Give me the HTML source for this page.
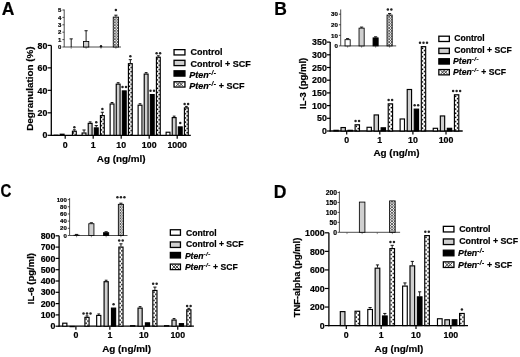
<!DOCTYPE html>
<html><head><meta charset="utf-8"><style>
html,body{margin:0;padding:0;background:#fff;}
body{width:520px;height:357px;overflow:hidden;}
svg{display:block;font-family:"Liberation Sans", sans-serif;filter:blur(0.35px);}
text{stroke:#000;stroke-width:0.2px;}
</style></head><body>
<svg width="520" height="357" viewBox="0 0 520 357">
<defs>
<pattern id="chki" width="2.8" height="2.8" patternUnits="userSpaceOnUse">
<rect width="2.8" height="2.8" fill="#fff"/><path d="M0,0L2.8,2.8M2.8,0L0,2.8" stroke="#333" stroke-width="0.75"/>
</pattern>
<pattern id="chk" width="3" height="3" patternUnits="userSpaceOnUse">
<rect width="3" height="3" fill="#111"/><circle cx="0.75" cy="0.75" r="0.85" fill="#fff"/><circle cx="2.25" cy="2.25" r="0.85" fill="#fff"/>
</pattern>
<pattern id="chkl" width="3.6" height="3.6" patternUnits="userSpaceOnUse" x="0.4" y="0.2">
<rect width="3.6" height="3.6" fill="#333"/><circle cx="0.9" cy="0.9" r="1.15" fill="#fff"/><circle cx="2.7" cy="2.7" r="1.15" fill="#fff"/>
</pattern>
<pattern id="pb0" x="0" y="131.85" width="520" height="4.2" patternUnits="userSpaceOnUse"><rect width="520" height="4.2" fill="#fff"/><circle cx="73.54" cy="1.05" r="0.8" fill="#000"/><circle cx="75.16" cy="3.15" r="0.8" fill="#000"/></pattern><pattern id="pb1" x="0" y="116.23" width="520" height="4.2" patternUnits="userSpaceOnUse"><rect width="520" height="4.2" fill="#fff"/><circle cx="101.54" cy="1.05" r="0.8" fill="#000"/><circle cx="103.16" cy="3.15" r="0.8" fill="#000"/></pattern><pattern id="pb2" x="0" y="64.29" width="520" height="4.2" patternUnits="userSpaceOnUse"><rect width="520" height="4.2" fill="#fff"/><circle cx="129.54" cy="1.05" r="0.8" fill="#000"/><circle cx="131.16" cy="3.15" r="0.8" fill="#000"/></pattern><pattern id="pb3" x="0" y="57.87" width="520" height="4.2" patternUnits="userSpaceOnUse"><rect width="520" height="4.2" fill="#fff"/><circle cx="157.54" cy="1.05" r="0.8" fill="#000"/><circle cx="159.16" cy="3.15" r="0.8" fill="#000"/></pattern><pattern id="pb4" x="0" y="108.48" width="520" height="4.2" patternUnits="userSpaceOnUse"><rect width="520" height="4.2" fill="#fff"/><circle cx="185.54" cy="1.05" r="0.8" fill="#000"/><circle cx="187.16" cy="3.15" r="0.8" fill="#000"/></pattern><pattern id="pb5" x="0" y="125.40" width="520" height="4.2" patternUnits="userSpaceOnUse"><rect width="520" height="4.2" fill="#fff"/><circle cx="356.34" cy="1.05" r="0.8" fill="#000"/><circle cx="358.26" cy="3.15" r="0.8" fill="#000"/></pattern><pattern id="pb6" x="0" y="104.48" width="520" height="4.2" patternUnits="userSpaceOnUse"><rect width="520" height="4.2" fill="#fff"/><circle cx="389.44" cy="1.05" r="0.8" fill="#000"/><circle cx="391.36" cy="3.15" r="0.8" fill="#000"/></pattern><pattern id="pb7" x="0" y="47.28" width="520" height="4.2" patternUnits="userSpaceOnUse"><rect width="520" height="4.2" fill="#fff"/><circle cx="422.54" cy="1.05" r="0.8" fill="#000"/><circle cx="424.46" cy="3.15" r="0.8" fill="#000"/></pattern><pattern id="pb8" x="0" y="95.41" width="520" height="4.2" patternUnits="userSpaceOnUse"><rect width="520" height="4.2" fill="#fff"/><circle cx="455.64" cy="1.05" r="0.8" fill="#000"/><circle cx="457.56" cy="3.15" r="0.8" fill="#000"/></pattern><pattern id="pb9" x="0" y="317.96" width="520" height="4.2" patternUnits="userSpaceOnUse"><rect width="520" height="4.2" fill="#fff"/><circle cx="86.10" cy="1.05" r="0.8" fill="#000"/><circle cx="87.90" cy="3.15" r="0.8" fill="#000"/></pattern><pattern id="pb10" x="0" y="247.71" width="520" height="4.2" patternUnits="userSpaceOnUse"><rect width="520" height="4.2" fill="#fff"/><circle cx="120.05" cy="1.05" r="0.8" fill="#000"/><circle cx="121.85" cy="3.15" r="0.8" fill="#000"/></pattern><pattern id="pb11" x="0" y="291.09" width="520" height="4.2" patternUnits="userSpaceOnUse"><rect width="520" height="4.2" fill="#fff"/><circle cx="154.00" cy="1.05" r="0.8" fill="#000"/><circle cx="155.80" cy="3.15" r="0.8" fill="#000"/></pattern><pattern id="pb12" x="0" y="310.43" width="520" height="4.2" patternUnits="userSpaceOnUse"><rect width="520" height="4.2" fill="#fff"/><circle cx="187.95" cy="1.05" r="0.8" fill="#000"/><circle cx="189.75" cy="3.15" r="0.8" fill="#000"/></pattern><pattern id="pb13" x="0" y="311.86" width="520" height="4.2" patternUnits="userSpaceOnUse"><rect width="520" height="4.2" fill="#fff"/><circle cx="356.30" cy="1.05" r="0.8" fill="#000"/><circle cx="358.40" cy="3.15" r="0.8" fill="#000"/></pattern><pattern id="pb14" x="0" y="249.22" width="520" height="4.2" patternUnits="userSpaceOnUse"><rect width="520" height="4.2" fill="#fff"/><circle cx="391.15" cy="1.05" r="0.8" fill="#000"/><circle cx="393.25" cy="3.15" r="0.8" fill="#000"/></pattern><pattern id="pb15" x="0" y="236.23" width="520" height="4.2" patternUnits="userSpaceOnUse"><rect width="520" height="4.2" fill="#fff"/><circle cx="426.00" cy="1.05" r="0.8" fill="#000"/><circle cx="428.10" cy="3.15" r="0.8" fill="#000"/></pattern><pattern id="pb16" x="0" y="314.09" width="520" height="4.2" patternUnits="userSpaceOnUse"><rect width="520" height="4.2" fill="#fff"/><circle cx="460.85" cy="1.05" r="0.8" fill="#000"/><circle cx="462.95" cy="3.15" r="0.8" fill="#000"/></pattern>
</defs>
<rect width="520" height="357" fill="#fff"/>
<text x="1.80" y="14.60" font-size="17.5" text-anchor="start" font-weight="bold" font-style="normal" fill="#000" >A</text>
<line x1="51.30" y1="45.38" x2="51.30" y2="135.90" stroke="#000" stroke-width="1.3"/>
<line x1="47.60" y1="135.30" x2="51.30" y2="135.30" stroke="#000" stroke-width="1.2"/>
<text x="47.40" y="138.47" font-size="8.8" text-anchor="end" font-weight="bold" font-style="normal" fill="#000" >0</text>
<line x1="47.60" y1="112.82" x2="51.30" y2="112.82" stroke="#000" stroke-width="1.2"/>
<text x="47.40" y="115.99" font-size="8.8" text-anchor="end" font-weight="bold" font-style="normal" fill="#000" >20</text>
<line x1="47.60" y1="90.34" x2="51.30" y2="90.34" stroke="#000" stroke-width="1.2"/>
<text x="47.40" y="93.51" font-size="8.8" text-anchor="end" font-weight="bold" font-style="normal" fill="#000" >40</text>
<line x1="47.60" y1="67.86" x2="51.30" y2="67.86" stroke="#000" stroke-width="1.2"/>
<text x="47.40" y="71.03" font-size="8.8" text-anchor="end" font-weight="bold" font-style="normal" fill="#000" >60</text>
<line x1="47.60" y1="45.38" x2="51.30" y2="45.38" stroke="#000" stroke-width="1.2"/>
<text x="47.40" y="48.55" font-size="8.8" text-anchor="end" font-weight="bold" font-style="normal" fill="#000" >80</text>
<line x1="50.70" y1="135.30" x2="190.80" y2="135.30" stroke="#000" stroke-width="1.3"/>
<line x1="65.20" y1="135.30" x2="65.20" y2="138.80" stroke="#000" stroke-width="1.2"/>
<text x="65.20" y="148.30" font-size="8.8" text-anchor="middle" font-weight="bold" font-style="normal" fill="#000" >0</text>
<rect x="54.13" y="135.21" width="3.85" height="0.20" fill="#fff" stroke="#000" stroke-width="1.15"/>
<rect x="60.23" y="134.21" width="3.85" height="1.09" fill="#cfcfcf" stroke="#000" stroke-width="1.15"/>
<line x1="72.95" y1="129.75" x2="75.75" y2="129.75" stroke="#000" stroke-width="0.9"/>
<line x1="74.35" y1="129.75" x2="74.35" y2="130.65" stroke="#000" stroke-width="0.9"/>
<rect x="72.43" y="131.22" width="3.85" height="4.08" fill="url(#pb0)" stroke="#000" stroke-width="1.15"/>
<circle cx="74.35" cy="127.35" r="1.25" fill="#222"/>
<line x1="93.20" y1="135.30" x2="93.20" y2="138.80" stroke="#000" stroke-width="1.2"/>
<text x="93.20" y="148.30" font-size="8.8" text-anchor="middle" font-weight="bold" font-style="normal" fill="#000" >1</text>
<line x1="84.05" y1="132.42" x2="84.05" y2="129.98" stroke="#000" stroke-width="0.9"/>
<line x1="82.45" y1="129.98" x2="85.65" y2="129.98" stroke="#000" stroke-width="0.9"/>
<rect x="82.12" y="133.00" width="3.85" height="2.30" fill="#fff" stroke="#000" stroke-width="1.15"/>
<line x1="88.75" y1="121.89" x2="91.55" y2="121.89" stroke="#000" stroke-width="0.9"/>
<line x1="90.15" y1="121.89" x2="90.15" y2="122.79" stroke="#000" stroke-width="0.9"/>
<rect x="88.23" y="123.36" width="3.85" height="11.94" fill="#cfcfcf" stroke="#000" stroke-width="1.15"/>
<line x1="96.25" y1="127.33" x2="96.25" y2="125.55" stroke="#000" stroke-width="0.9"/>
<line x1="94.65" y1="125.55" x2="97.85" y2="125.55" stroke="#000" stroke-width="0.9"/>
<rect x="94.33" y="127.90" width="3.85" height="7.40" fill="#000" stroke="#000" stroke-width="1.15"/>
<circle cx="96.25" cy="122.25" r="1.25" fill="#222"/>
<line x1="102.35" y1="115.03" x2="102.35" y2="112.26" stroke="#000" stroke-width="0.9"/>
<line x1="100.75" y1="112.26" x2="103.95" y2="112.26" stroke="#000" stroke-width="0.9"/>
<rect x="100.43" y="115.61" width="3.85" height="19.69" fill="url(#pb1)" stroke="#000" stroke-width="1.15"/>
<circle cx="102.35" cy="108.96" r="1.25" fill="#222"/>
<line x1="121.20" y1="135.30" x2="121.20" y2="138.80" stroke="#000" stroke-width="1.2"/>
<text x="121.20" y="148.30" font-size="8.8" text-anchor="middle" font-weight="bold" font-style="normal" fill="#000" >10</text>
<line x1="110.65" y1="102.50" x2="113.45" y2="102.50" stroke="#000" stroke-width="0.9"/>
<line x1="112.05" y1="102.50" x2="112.05" y2="103.40" stroke="#000" stroke-width="0.9"/>
<rect x="110.12" y="103.98" width="3.85" height="31.32" fill="#fff" stroke="#000" stroke-width="1.15"/>
<line x1="116.75" y1="82.68" x2="119.55" y2="82.68" stroke="#000" stroke-width="0.9"/>
<line x1="118.15" y1="82.68" x2="118.15" y2="83.58" stroke="#000" stroke-width="0.9"/>
<rect x="116.23" y="84.15" width="3.85" height="51.15" fill="#cfcfcf" stroke="#000" stroke-width="1.15"/>
<rect x="122.33" y="90.91" width="3.85" height="44.39" fill="#000" stroke="#000" stroke-width="1.15"/>
<circle cx="122.50" cy="87.04" r="1.25" fill="#222"/>
<circle cx="126.00" cy="87.04" r="1.25" fill="#222"/>
<line x1="130.35" y1="63.09" x2="130.35" y2="59.66" stroke="#000" stroke-width="0.9"/>
<line x1="128.75" y1="59.66" x2="131.95" y2="59.66" stroke="#000" stroke-width="0.9"/>
<rect x="128.42" y="63.67" width="3.85" height="71.63" fill="url(#pb2)" stroke="#000" stroke-width="1.15"/>
<circle cx="130.35" cy="56.36" r="1.25" fill="#222"/>
<line x1="149.20" y1="135.30" x2="149.20" y2="138.80" stroke="#000" stroke-width="1.2"/>
<text x="149.20" y="148.30" font-size="8.8" text-anchor="middle" font-weight="bold" font-style="normal" fill="#000" >100</text>
<line x1="138.65" y1="103.72" x2="141.45" y2="103.72" stroke="#000" stroke-width="0.9"/>
<line x1="140.05" y1="103.72" x2="140.05" y2="104.62" stroke="#000" stroke-width="0.9"/>
<rect x="138.12" y="105.20" width="3.85" height="30.10" fill="#fff" stroke="#000" stroke-width="1.15"/>
<line x1="144.75" y1="72.60" x2="147.55" y2="72.60" stroke="#000" stroke-width="0.9"/>
<line x1="146.15" y1="72.60" x2="146.15" y2="73.50" stroke="#000" stroke-width="0.9"/>
<rect x="144.22" y="74.08" width="3.85" height="61.22" fill="#cfcfcf" stroke="#000" stroke-width="1.15"/>
<rect x="150.32" y="94.57" width="3.85" height="40.73" fill="#000" stroke="#000" stroke-width="1.15"/>
<circle cx="150.50" cy="90.69" r="1.25" fill="#222"/>
<circle cx="154.00" cy="90.69" r="1.25" fill="#222"/>
<line x1="156.95" y1="55.77" x2="159.75" y2="55.77" stroke="#000" stroke-width="0.9"/>
<line x1="158.35" y1="55.77" x2="158.35" y2="56.67" stroke="#000" stroke-width="0.9"/>
<rect x="156.42" y="57.24" width="3.85" height="78.06" fill="url(#pb3)" stroke="#000" stroke-width="1.15"/>
<circle cx="156.60" cy="53.37" r="1.25" fill="#222"/>
<circle cx="160.10" cy="53.37" r="1.25" fill="#222"/>
<line x1="177.20" y1="135.30" x2="177.20" y2="138.80" stroke="#000" stroke-width="1.2"/>
<text x="177.20" y="148.30" font-size="8.8" text-anchor="middle" font-weight="bold" font-style="normal" fill="#000" >1000</text>
<rect x="166.12" y="132.22" width="3.85" height="3.08" fill="#fff" stroke="#000" stroke-width="1.15"/>
<line x1="172.75" y1="116.13" x2="175.55" y2="116.13" stroke="#000" stroke-width="0.9"/>
<line x1="174.15" y1="116.13" x2="174.15" y2="117.03" stroke="#000" stroke-width="0.9"/>
<rect x="172.22" y="117.60" width="3.85" height="17.70" fill="#cfcfcf" stroke="#000" stroke-width="1.15"/>
<rect x="178.32" y="126.90" width="3.85" height="8.40" fill="#000" stroke="#000" stroke-width="1.15"/>
<circle cx="180.25" cy="123.03" r="1.25" fill="#222"/>
<line x1="184.95" y1="106.38" x2="187.75" y2="106.38" stroke="#000" stroke-width="0.9"/>
<line x1="186.35" y1="106.38" x2="186.35" y2="107.28" stroke="#000" stroke-width="0.9"/>
<rect x="184.42" y="107.86" width="3.85" height="27.44" fill="url(#pb4)" stroke="#000" stroke-width="1.15"/>
<circle cx="184.60" cy="103.98" r="1.25" fill="#222"/>
<circle cx="188.10" cy="103.98" r="1.25" fill="#222"/>
<text x="121.20" y="161.60" font-size="9.9" text-anchor="middle" font-weight="bold" font-style="normal" fill="#000" >Ag (ng/ml)</text>
<text transform="translate(32.80,88.60) rotate(-90)" font-size="9.9" text-anchor="middle" font-weight="bold" fill="#000">Degranulation (%)</text>
<line x1="64.20" y1="9.50" x2="64.20" y2="47.00" stroke="#222" stroke-width="0.8"/>
<line x1="62.40" y1="47.00" x2="64.20" y2="47.00" stroke="#222" stroke-width="0.8"/>
<text x="61.40" y="49.16" font-size="6" text-anchor="end" font-weight="bold" font-style="normal" fill="#000" stroke="#000" stroke-width="0.25">0</text>
<line x1="62.40" y1="39.60" x2="64.20" y2="39.60" stroke="#222" stroke-width="0.8"/>
<text x="61.40" y="41.76" font-size="6" text-anchor="end" font-weight="bold" font-style="normal" fill="#000" stroke="#000" stroke-width="0.25">1</text>
<line x1="62.40" y1="32.20" x2="64.20" y2="32.20" stroke="#222" stroke-width="0.8"/>
<text x="61.40" y="34.36" font-size="6" text-anchor="end" font-weight="bold" font-style="normal" fill="#000" stroke="#000" stroke-width="0.25">2</text>
<line x1="62.40" y1="24.80" x2="64.20" y2="24.80" stroke="#222" stroke-width="0.8"/>
<text x="61.40" y="26.96" font-size="6" text-anchor="end" font-weight="bold" font-style="normal" fill="#000" stroke="#000" stroke-width="0.25">3</text>
<line x1="62.40" y1="17.40" x2="64.20" y2="17.40" stroke="#222" stroke-width="0.8"/>
<text x="61.40" y="19.56" font-size="6" text-anchor="end" font-weight="bold" font-style="normal" fill="#000" stroke="#000" stroke-width="0.25">4</text>
<line x1="62.40" y1="10.00" x2="64.20" y2="10.00" stroke="#222" stroke-width="0.8"/>
<text x="61.40" y="12.16" font-size="6" text-anchor="end" font-weight="bold" font-style="normal" fill="#000" stroke="#000" stroke-width="0.25">5</text>
<line x1="64.20" y1="47.00" x2="121.00" y2="47.00" stroke="#222" stroke-width="0.8"/>
<line x1="71.20" y1="47.00" x2="71.20" y2="48.80" stroke="#444" stroke-width="0.6"/>
<line x1="71.20" y1="47.00" x2="71.20" y2="38.86" stroke="#000" stroke-width="0.9"/>
<line x1="69.60" y1="38.86" x2="72.80" y2="38.86" stroke="#000" stroke-width="0.9"/>
<line x1="86.10" y1="47.00" x2="86.10" y2="48.80" stroke="#444" stroke-width="0.6"/>
<line x1="86.10" y1="41.08" x2="86.10" y2="30.72" stroke="#000" stroke-width="0.9"/>
<line x1="84.50" y1="30.72" x2="87.70" y2="30.72" stroke="#000" stroke-width="0.9"/>
<rect x="83.43" y="41.50" width="5.35" height="5.50" fill="#cfcfcf" stroke="#000" stroke-width="0.85"/>
<line x1="101.00" y1="47.00" x2="101.00" y2="48.80" stroke="#444" stroke-width="0.6"/>
<line x1="115.90" y1="47.00" x2="115.90" y2="48.80" stroke="#444" stroke-width="0.6"/>
<line x1="115.90" y1="16.66" x2="115.90" y2="15.18" stroke="#000" stroke-width="0.9"/>
<line x1="114.30" y1="15.18" x2="117.50" y2="15.18" stroke="#000" stroke-width="0.9"/>
<rect x="113.23" y="17.09" width="5.35" height="29.91" fill="url(#chki)" stroke="#000" stroke-width="0.85"/>
<circle cx="115.90" cy="9.90" r="1.25" fill="#222"/>
<circle cx="101.0" cy="46.3" r="1.2" fill="#111"/>
<rect x="174.05" y="49.65" width="10.90" height="5.30" fill="#fff" stroke="#000" stroke-width="1.3"/>
<text x="190.40" y="55.32" font-size="9.0" text-anchor="start" font-weight="bold" font-style="normal" fill="#000" >Control</text>
<rect x="174.05" y="60.30" width="10.90" height="5.30" fill="#cfcfcf" stroke="#000" stroke-width="1.3"/>
<text x="190.40" y="66.72" font-size="9.0" text-anchor="start" font-weight="bold" font-style="normal" fill="#000" >Control + SCF</text>
<rect x="174.05" y="70.80" width="10.90" height="5.30" fill="#000" stroke="#000" stroke-width="1.3"/>
<text x="189.30" y="77.62" font-size="9.0" text-anchor="start" font-weight="bold" font-style="normal" fill="#000" ><tspan font-style="italic">Pten</tspan><tspan font-style="italic" font-size="6.48" dy="-3" letter-spacing="0.45">-/-</tspan></text>
<rect x="174.05" y="81.75" width="10.90" height="5.30" fill="#fff" stroke="#000" stroke-width="1.3"/>
<path d="M175.87,82.40L179.87,86.40M175.87,86.40L179.87,82.40" stroke="#333" stroke-width="1.0" fill="none"/>
<path d="M179.13,82.40L183.13,86.40M179.13,86.40L183.13,82.40" stroke="#333" stroke-width="1.0" fill="none"/>
<text x="189.30" y="88.92" font-size="9.0" text-anchor="start" font-weight="bold" font-style="normal" fill="#000" ><tspan font-style="italic">Pten</tspan><tspan font-style="italic" font-size="6.48" dy="-3" letter-spacing="0.45">-/-</tspan><tspan dy="3"> + SCF</tspan></text>
<text x="274.20" y="15.10" font-size="17.5" text-anchor="start" font-weight="bold" font-style="normal" fill="#000" >B</text>
<line x1="330.20" y1="42.10" x2="330.20" y2="131.60" stroke="#000" stroke-width="1.3"/>
<line x1="327.00" y1="131.00" x2="330.20" y2="131.00" stroke="#000" stroke-width="1.2"/>
<text x="326.80" y="134.17" font-size="8.8" text-anchor="end" font-weight="bold" font-style="normal" fill="#000" >0</text>
<line x1="327.00" y1="118.30" x2="330.20" y2="118.30" stroke="#000" stroke-width="1.2"/>
<text x="326.80" y="121.47" font-size="8.8" text-anchor="end" font-weight="bold" font-style="normal" fill="#000" >50</text>
<line x1="327.00" y1="105.60" x2="330.20" y2="105.60" stroke="#000" stroke-width="1.2"/>
<text x="326.80" y="108.77" font-size="8.8" text-anchor="end" font-weight="bold" font-style="normal" fill="#000" >100</text>
<line x1="327.00" y1="92.90" x2="330.20" y2="92.90" stroke="#000" stroke-width="1.2"/>
<text x="326.80" y="96.07" font-size="8.8" text-anchor="end" font-weight="bold" font-style="normal" fill="#000" >150</text>
<line x1="327.00" y1="80.20" x2="330.20" y2="80.20" stroke="#000" stroke-width="1.2"/>
<text x="326.80" y="83.37" font-size="8.8" text-anchor="end" font-weight="bold" font-style="normal" fill="#000" >200</text>
<line x1="327.00" y1="67.50" x2="330.20" y2="67.50" stroke="#000" stroke-width="1.2"/>
<text x="326.80" y="70.67" font-size="8.8" text-anchor="end" font-weight="bold" font-style="normal" fill="#000" >250</text>
<line x1="327.00" y1="54.80" x2="330.20" y2="54.80" stroke="#000" stroke-width="1.2"/>
<text x="326.80" y="57.97" font-size="8.8" text-anchor="end" font-weight="bold" font-style="normal" fill="#000" >300</text>
<line x1="327.00" y1="42.10" x2="330.20" y2="42.10" stroke="#000" stroke-width="1.2"/>
<text x="326.80" y="45.27" font-size="8.8" text-anchor="end" font-weight="bold" font-style="normal" fill="#000" >350</text>
<line x1="329.60" y1="131.00" x2="462.70" y2="131.00" stroke="#000" stroke-width="1.3"/>
<line x1="346.70" y1="131.00" x2="346.70" y2="134.50" stroke="#000" stroke-width="1.2"/>
<text x="346.70" y="143.30" font-size="8.8" text-anchor="middle" font-weight="bold" font-style="normal" fill="#000" >0</text>
<rect x="333.92" y="130.31" width="4.35" height="0.68" fill="#fff" stroke="#000" stroke-width="1.15"/>
<rect x="341.02" y="127.54" width="4.35" height="3.46" fill="#cfcfcf" stroke="#000" stroke-width="1.15"/>
<rect x="348.02" y="130.31" width="4.35" height="0.68" fill="#000" stroke="#000" stroke-width="1.15"/>
<rect x="355.12" y="124.77" width="4.35" height="6.23" fill="url(#pb5)" stroke="#000" stroke-width="1.15"/>
<circle cx="355.55" cy="120.90" r="1.25" fill="#222"/>
<circle cx="359.05" cy="120.90" r="1.25" fill="#222"/>
<line x1="379.80" y1="131.00" x2="379.80" y2="134.50" stroke="#000" stroke-width="1.2"/>
<text x="379.80" y="143.30" font-size="8.8" text-anchor="middle" font-weight="bold" font-style="normal" fill="#000" >1</text>
<rect x="367.02" y="127.29" width="4.35" height="3.71" fill="#fff" stroke="#000" stroke-width="1.15"/>
<rect x="374.12" y="114.94" width="4.35" height="16.06" fill="#cfcfcf" stroke="#000" stroke-width="1.15"/>
<rect x="381.12" y="127.80" width="4.35" height="3.21" fill="#000" stroke="#000" stroke-width="1.15"/>
<rect x="388.23" y="103.86" width="4.35" height="27.14" fill="url(#pb6)" stroke="#000" stroke-width="1.15"/>
<circle cx="388.65" cy="99.98" r="1.25" fill="#222"/>
<circle cx="392.15" cy="99.98" r="1.25" fill="#222"/>
<line x1="412.90" y1="131.00" x2="412.90" y2="134.50" stroke="#000" stroke-width="1.2"/>
<text x="412.90" y="143.30" font-size="8.8" text-anchor="middle" font-weight="bold" font-style="normal" fill="#000" >10</text>
<rect x="400.12" y="118.98" width="4.35" height="12.02" fill="#fff" stroke="#000" stroke-width="1.15"/>
<rect x="407.22" y="89.49" width="4.35" height="41.51" fill="#cfcfcf" stroke="#000" stroke-width="1.15"/>
<rect x="414.22" y="109.15" width="4.35" height="21.85" fill="#000" stroke="#000" stroke-width="1.15"/>
<circle cx="414.65" cy="105.27" r="1.25" fill="#222"/>
<circle cx="418.15" cy="105.27" r="1.25" fill="#222"/>
<rect x="421.32" y="46.65" width="4.35" height="84.35" fill="url(#pb7)" stroke="#000" stroke-width="1.15"/>
<circle cx="420.00" cy="42.78" r="1.25" fill="#222"/>
<circle cx="423.50" cy="42.78" r="1.25" fill="#222"/>
<circle cx="427.00" cy="42.78" r="1.25" fill="#222"/>
<line x1="446.00" y1="131.00" x2="446.00" y2="134.50" stroke="#000" stroke-width="1.2"/>
<text x="446.00" y="143.30" font-size="8.8" text-anchor="middle" font-weight="bold" font-style="normal" fill="#000" >100</text>
<rect x="433.22" y="128.30" width="4.35" height="2.70" fill="#fff" stroke="#000" stroke-width="1.15"/>
<rect x="440.32" y="115.95" width="4.35" height="15.05" fill="#cfcfcf" stroke="#000" stroke-width="1.15"/>
<rect x="447.32" y="128.30" width="4.35" height="2.70" fill="#000" stroke="#000" stroke-width="1.15"/>
<rect x="454.43" y="94.78" width="4.35" height="36.22" fill="url(#pb8)" stroke="#000" stroke-width="1.15"/>
<circle cx="453.10" cy="90.91" r="1.25" fill="#222"/>
<circle cx="456.60" cy="90.91" r="1.25" fill="#222"/>
<circle cx="460.10" cy="90.91" r="1.25" fill="#222"/>
<text x="396.50" y="156.40" font-size="9.9" text-anchor="middle" font-weight="bold" font-style="normal" fill="#000" >Ag (ng/m)</text>
<text transform="translate(306.00,83.40) rotate(-90)" font-size="9.5" text-anchor="middle" font-weight="bold" fill="#000">IL-3 (pg/ml)</text>
<line x1="340.70" y1="9.46" x2="340.70" y2="45.90" stroke="#222" stroke-width="0.8"/>
<line x1="338.90" y1="45.90" x2="340.70" y2="45.90" stroke="#222" stroke-width="0.8"/>
<text x="337.90" y="48.13" font-size="6.2" text-anchor="end" font-weight="bold" font-style="normal" fill="#000" stroke="#000" stroke-width="0.25">0</text>
<line x1="338.90" y1="35.33" x2="340.70" y2="35.33" stroke="#222" stroke-width="0.8"/>
<text x="337.90" y="37.56" font-size="6.2" text-anchor="end" font-weight="bold" font-style="normal" fill="#000" stroke="#000" stroke-width="0.25">10</text>
<line x1="338.90" y1="24.76" x2="340.70" y2="24.76" stroke="#222" stroke-width="0.8"/>
<text x="337.90" y="26.99" font-size="6.2" text-anchor="end" font-weight="bold" font-style="normal" fill="#000" stroke="#000" stroke-width="0.25">20</text>
<line x1="338.90" y1="14.19" x2="340.70" y2="14.19" stroke="#222" stroke-width="0.8"/>
<text x="337.90" y="16.42" font-size="6.2" text-anchor="end" font-weight="bold" font-style="normal" fill="#000" stroke="#000" stroke-width="0.25">30</text>
<line x1="340.70" y1="45.90" x2="396.20" y2="45.90" stroke="#222" stroke-width="0.8"/>
<line x1="347.60" y1="45.90" x2="347.60" y2="47.70" stroke="#444" stroke-width="0.6"/>
<line x1="347.60" y1="39.24" x2="347.60" y2="38.61" stroke="#000" stroke-width="0.9"/>
<line x1="346.00" y1="38.61" x2="349.20" y2="38.61" stroke="#000" stroke-width="0.9"/>
<rect x="345.03" y="39.67" width="5.15" height="6.23" fill="#fff" stroke="#000" stroke-width="0.85"/>
<line x1="361.60" y1="45.90" x2="361.60" y2="47.70" stroke="#444" stroke-width="0.6"/>
<line x1="361.60" y1="27.72" x2="361.60" y2="27.09" stroke="#000" stroke-width="0.9"/>
<line x1="360.00" y1="27.09" x2="363.20" y2="27.09" stroke="#000" stroke-width="0.9"/>
<rect x="359.03" y="28.14" width="5.15" height="17.76" fill="#cfcfcf" stroke="#000" stroke-width="0.85"/>
<line x1="375.60" y1="45.90" x2="375.60" y2="47.70" stroke="#444" stroke-width="0.6"/>
<line x1="375.60" y1="37.44" x2="375.60" y2="36.81" stroke="#000" stroke-width="0.9"/>
<line x1="374.00" y1="36.81" x2="377.20" y2="36.81" stroke="#000" stroke-width="0.9"/>
<rect x="373.03" y="37.87" width="5.15" height="8.03" fill="#000" stroke="#000" stroke-width="0.85"/>
<line x1="389.60" y1="45.90" x2="389.60" y2="47.70" stroke="#444" stroke-width="0.6"/>
<line x1="389.60" y1="14.61" x2="389.60" y2="13.56" stroke="#000" stroke-width="0.9"/>
<line x1="388.00" y1="13.56" x2="391.20" y2="13.56" stroke="#000" stroke-width="0.9"/>
<rect x="387.03" y="15.04" width="5.15" height="30.86" fill="url(#chki)" stroke="#000" stroke-width="0.85"/>
<circle cx="387.85" cy="9.40" r="1.25" fill="#222"/>
<circle cx="391.35" cy="9.40" r="1.25" fill="#222"/>
<rect x="438.85" y="36.20" width="10.50" height="5.30" fill="#fff" stroke="#000" stroke-width="1.3"/>
<text x="454.20" y="40.53" font-size="8.6" text-anchor="start" font-weight="bold" font-style="normal" fill="#000" >Control</text>
<rect x="438.85" y="48.25" width="10.50" height="5.30" fill="#cfcfcf" stroke="#000" stroke-width="1.3"/>
<text x="454.20" y="52.63" font-size="8.6" text-anchor="start" font-weight="bold" font-style="normal" fill="#000" >Control + SCF</text>
<rect x="438.85" y="58.75" width="10.50" height="5.30" fill="#000" stroke="#000" stroke-width="1.3"/>
<text x="453.10" y="64.08" font-size="8.6" text-anchor="start" font-weight="bold" font-style="normal" fill="#000" ><tspan font-style="italic">Pten</tspan><tspan font-style="italic" font-size="6.19" dy="-3" letter-spacing="0.45">-/-</tspan></text>
<rect x="438.85" y="69.55" width="10.50" height="5.30" fill="#fff" stroke="#000" stroke-width="1.3"/>
<path d="M440.54,70.20L444.54,74.20M440.54,74.20L444.54,70.20" stroke="#333" stroke-width="1.0" fill="none"/>
<path d="M443.66,70.20L447.66,74.20M443.66,74.20L447.66,70.20" stroke="#333" stroke-width="1.0" fill="none"/>
<text x="453.10" y="75.43" font-size="8.6" text-anchor="start" font-weight="bold" font-style="normal" fill="#000" ><tspan font-style="italic">Pten</tspan><tspan font-style="italic" font-size="6.19" dy="-3" letter-spacing="0.45">-/-</tspan><tspan dy="3"> + SCF</tspan></text>
<g transform="translate(0.50,0) scale(0.86,1)">
<text x="0.00" y="196.60" font-size="17.5" text-anchor="start" font-weight="bold" font-style="normal" fill="#000" >C</text>
</g>
<line x1="59.10" y1="235.80" x2="59.10" y2="326.80" stroke="#000" stroke-width="1.3"/>
<line x1="55.60" y1="326.20" x2="59.10" y2="326.20" stroke="#000" stroke-width="1.2"/>
<text x="55.40" y="329.37" font-size="8.8" text-anchor="end" font-weight="bold" font-style="normal" fill="#000" >0</text>
<line x1="55.60" y1="314.90" x2="59.10" y2="314.90" stroke="#000" stroke-width="1.2"/>
<text x="55.40" y="318.07" font-size="8.8" text-anchor="end" font-weight="bold" font-style="normal" fill="#000" >100</text>
<line x1="55.60" y1="303.60" x2="59.10" y2="303.60" stroke="#000" stroke-width="1.2"/>
<text x="55.40" y="306.77" font-size="8.8" text-anchor="end" font-weight="bold" font-style="normal" fill="#000" >200</text>
<line x1="55.60" y1="292.30" x2="59.10" y2="292.30" stroke="#000" stroke-width="1.2"/>
<text x="55.40" y="295.47" font-size="8.8" text-anchor="end" font-weight="bold" font-style="normal" fill="#000" >300</text>
<line x1="55.60" y1="281.00" x2="59.10" y2="281.00" stroke="#000" stroke-width="1.2"/>
<text x="55.40" y="284.17" font-size="8.8" text-anchor="end" font-weight="bold" font-style="normal" fill="#000" >400</text>
<line x1="55.60" y1="269.70" x2="59.10" y2="269.70" stroke="#000" stroke-width="1.2"/>
<text x="55.40" y="272.87" font-size="8.8" text-anchor="end" font-weight="bold" font-style="normal" fill="#000" >500</text>
<line x1="55.60" y1="258.40" x2="59.10" y2="258.40" stroke="#000" stroke-width="1.2"/>
<text x="55.40" y="261.57" font-size="8.8" text-anchor="end" font-weight="bold" font-style="normal" fill="#000" >600</text>
<line x1="55.60" y1="247.10" x2="59.10" y2="247.10" stroke="#000" stroke-width="1.2"/>
<text x="55.40" y="250.27" font-size="8.8" text-anchor="end" font-weight="bold" font-style="normal" fill="#000" >700</text>
<line x1="55.60" y1="235.80" x2="59.10" y2="235.80" stroke="#000" stroke-width="1.2"/>
<text x="55.40" y="238.97" font-size="8.8" text-anchor="end" font-weight="bold" font-style="normal" fill="#000" >800</text>
<line x1="58.50" y1="326.20" x2="193.90" y2="326.20" stroke="#000" stroke-width="1.3"/>
<line x1="75.90" y1="326.20" x2="75.90" y2="329.70" stroke="#000" stroke-width="1.2"/>
<text x="75.90" y="337.70" font-size="8.8" text-anchor="middle" font-weight="bold" font-style="normal" fill="#000" >0</text>
<rect x="62.73" y="323.18" width="4.15" height="3.02" fill="#fff" stroke="#000" stroke-width="1.15"/>
<rect x="70.12" y="326.44" width="4.15" height="0.20" fill="#cfcfcf" stroke="#000" stroke-width="1.15"/>
<line x1="85.60" y1="315.86" x2="88.40" y2="315.86" stroke="#000" stroke-width="0.9"/>
<line x1="87.00" y1="315.86" x2="87.00" y2="316.76" stroke="#000" stroke-width="0.9"/>
<rect x="84.92" y="317.33" width="4.15" height="8.87" fill="url(#pb9)" stroke="#000" stroke-width="1.15"/>
<circle cx="83.50" cy="313.46" r="1.25" fill="#222"/>
<circle cx="87.00" cy="313.46" r="1.25" fill="#222"/>
<circle cx="90.50" cy="313.46" r="1.25" fill="#222"/>
<line x1="109.85" y1="326.20" x2="109.85" y2="329.70" stroke="#000" stroke-width="1.2"/>
<text x="109.85" y="337.70" font-size="8.8" text-anchor="middle" font-weight="bold" font-style="normal" fill="#000" >1</text>
<line x1="97.35" y1="313.95" x2="100.15" y2="313.95" stroke="#000" stroke-width="0.9"/>
<line x1="98.75" y1="313.95" x2="98.75" y2="314.85" stroke="#000" stroke-width="0.9"/>
<rect x="96.68" y="315.42" width="4.15" height="10.78" fill="#fff" stroke="#000" stroke-width="1.15"/>
<line x1="104.75" y1="280.23" x2="107.55" y2="280.23" stroke="#000" stroke-width="0.9"/>
<line x1="106.15" y1="280.23" x2="106.15" y2="281.13" stroke="#000" stroke-width="0.9"/>
<rect x="104.08" y="281.70" width="4.15" height="44.50" fill="#cfcfcf" stroke="#000" stroke-width="1.15"/>
<rect x="111.48" y="308.12" width="4.15" height="18.08" fill="#000" stroke="#000" stroke-width="1.15"/>
<circle cx="113.55" cy="304.24" r="1.25" fill="#222"/>
<line x1="120.95" y1="246.51" x2="120.95" y2="243.81" stroke="#000" stroke-width="0.9"/>
<line x1="119.35" y1="243.81" x2="122.55" y2="243.81" stroke="#000" stroke-width="0.9"/>
<rect x="118.88" y="247.08" width="4.15" height="79.12" fill="url(#pb10)" stroke="#000" stroke-width="1.15"/>
<circle cx="119.20" cy="240.51" r="1.25" fill="#222"/>
<circle cx="122.70" cy="240.51" r="1.25" fill="#222"/>
<line x1="143.80" y1="326.20" x2="143.80" y2="329.70" stroke="#000" stroke-width="1.2"/>
<text x="143.80" y="337.70" font-size="8.8" text-anchor="middle" font-weight="bold" font-style="normal" fill="#000" >10</text>
<rect x="130.62" y="325.65" width="4.15" height="0.55" fill="#fff" stroke="#000" stroke-width="1.15"/>
<line x1="138.70" y1="306.64" x2="141.50" y2="306.64" stroke="#000" stroke-width="0.9"/>
<line x1="140.10" y1="306.64" x2="140.10" y2="307.54" stroke="#000" stroke-width="0.9"/>
<rect x="138.03" y="308.12" width="4.15" height="18.08" fill="#cfcfcf" stroke="#000" stroke-width="1.15"/>
<rect x="145.42" y="322.84" width="4.15" height="3.36" fill="#000" stroke="#000" stroke-width="1.15"/>
<line x1="154.90" y1="289.89" x2="154.90" y2="287.08" stroke="#000" stroke-width="0.9"/>
<line x1="153.30" y1="287.08" x2="156.50" y2="287.08" stroke="#000" stroke-width="0.9"/>
<rect x="152.82" y="290.47" width="4.15" height="35.73" fill="url(#pb11)" stroke="#000" stroke-width="1.15"/>
<circle cx="153.15" cy="283.78" r="1.25" fill="#222"/>
<circle cx="156.65" cy="283.78" r="1.25" fill="#222"/>
<line x1="177.75" y1="326.20" x2="177.75" y2="329.70" stroke="#000" stroke-width="1.2"/>
<text x="177.75" y="337.70" font-size="8.8" text-anchor="middle" font-weight="bold" font-style="normal" fill="#000" >100</text>
<rect x="164.57" y="325.65" width="4.15" height="0.55" fill="#fff" stroke="#000" stroke-width="1.15"/>
<line x1="172.65" y1="318.56" x2="175.45" y2="318.56" stroke="#000" stroke-width="0.9"/>
<line x1="174.05" y1="318.56" x2="174.05" y2="319.46" stroke="#000" stroke-width="0.9"/>
<rect x="171.97" y="320.03" width="4.15" height="6.17" fill="#cfcfcf" stroke="#000" stroke-width="1.15"/>
<rect x="179.37" y="323.63" width="4.15" height="2.57" fill="#000" stroke="#000" stroke-width="1.15"/>
<line x1="187.45" y1="308.33" x2="190.25" y2="308.33" stroke="#000" stroke-width="0.9"/>
<line x1="188.85" y1="308.33" x2="188.85" y2="309.23" stroke="#000" stroke-width="0.9"/>
<rect x="186.77" y="309.80" width="4.15" height="16.40" fill="url(#pb12)" stroke="#000" stroke-width="1.15"/>
<circle cx="187.10" cy="305.93" r="1.25" fill="#222"/>
<circle cx="190.60" cy="305.93" r="1.25" fill="#222"/>
<text x="126.60" y="352.00" font-size="9.9" text-anchor="middle" font-weight="bold" font-style="normal" fill="#000" >Ag (ng/ml)</text>
<text transform="translate(34.30,278.60) rotate(-90)" font-size="9.5" text-anchor="middle" font-weight="bold" fill="#000">IL-6 (pg/ml)</text>
<line x1="69.60" y1="198.02" x2="69.60" y2="235.50" stroke="#222" stroke-width="0.8"/>
<line x1="67.80" y1="235.50" x2="69.60" y2="235.50" stroke="#222" stroke-width="0.8"/>
<text x="66.80" y="237.66" font-size="6.0" text-anchor="end" font-weight="bold" font-style="normal" fill="#000" stroke="#000" stroke-width="0.25">0</text>
<line x1="67.80" y1="228.32" x2="69.60" y2="228.32" stroke="#222" stroke-width="0.8"/>
<text x="66.80" y="230.48" font-size="6.0" text-anchor="end" font-weight="bold" font-style="normal" fill="#000" stroke="#000" stroke-width="0.25">20</text>
<line x1="67.80" y1="221.14" x2="69.60" y2="221.14" stroke="#222" stroke-width="0.8"/>
<text x="66.80" y="223.30" font-size="6.0" text-anchor="end" font-weight="bold" font-style="normal" fill="#000" stroke="#000" stroke-width="0.25">40</text>
<line x1="67.80" y1="213.96" x2="69.60" y2="213.96" stroke="#222" stroke-width="0.8"/>
<text x="66.80" y="216.12" font-size="6.0" text-anchor="end" font-weight="bold" font-style="normal" fill="#000" stroke="#000" stroke-width="0.25">60</text>
<line x1="67.80" y1="206.78" x2="69.60" y2="206.78" stroke="#222" stroke-width="0.8"/>
<text x="66.80" y="208.94" font-size="6.0" text-anchor="end" font-weight="bold" font-style="normal" fill="#000" stroke="#000" stroke-width="0.25">80</text>
<line x1="67.80" y1="199.60" x2="69.60" y2="199.60" stroke="#222" stroke-width="0.8"/>
<text x="66.80" y="201.76" font-size="6.0" text-anchor="end" font-weight="bold" font-style="normal" fill="#000" stroke="#000" stroke-width="0.25">100</text>
<line x1="69.60" y1="235.50" x2="127.50" y2="235.50" stroke="#222" stroke-width="0.8"/>
<line x1="76.60" y1="235.50" x2="76.60" y2="237.30" stroke="#444" stroke-width="0.6"/>
<line x1="76.60" y1="234.78" x2="76.60" y2="234.42" stroke="#000" stroke-width="0.9"/>
<line x1="75.00" y1="234.42" x2="78.20" y2="234.42" stroke="#000" stroke-width="0.9"/>
<rect x="74.02" y="235.21" width="5.15" height="0.29" fill="#fff" stroke="#000" stroke-width="0.85"/>
<line x1="91.37" y1="235.50" x2="91.37" y2="237.30" stroke="#444" stroke-width="0.6"/>
<line x1="91.37" y1="223.29" x2="91.37" y2="222.76" stroke="#000" stroke-width="0.9"/>
<line x1="89.77" y1="222.76" x2="92.97" y2="222.76" stroke="#000" stroke-width="0.9"/>
<rect x="88.79" y="223.72" width="5.15" height="11.78" fill="#cfcfcf" stroke="#000" stroke-width="0.85"/>
<line x1="106.14" y1="235.50" x2="106.14" y2="237.30" stroke="#444" stroke-width="0.6"/>
<line x1="106.14" y1="232.27" x2="106.14" y2="231.73" stroke="#000" stroke-width="0.9"/>
<line x1="104.54" y1="231.73" x2="107.74" y2="231.73" stroke="#000" stroke-width="0.9"/>
<rect x="103.56" y="232.69" width="5.15" height="2.81" fill="#000" stroke="#000" stroke-width="0.85"/>
<line x1="120.91" y1="235.50" x2="120.91" y2="237.30" stroke="#444" stroke-width="0.6"/>
<line x1="120.91" y1="203.91" x2="120.91" y2="203.19" stroke="#000" stroke-width="0.9"/>
<line x1="119.31" y1="203.19" x2="122.51" y2="203.19" stroke="#000" stroke-width="0.9"/>
<rect x="118.33" y="204.33" width="5.15" height="31.17" fill="url(#chki)" stroke="#000" stroke-width="0.85"/>
<circle cx="117.41" cy="197.20" r="1.25" fill="#222"/>
<circle cx="120.91" cy="197.20" r="1.25" fill="#222"/>
<circle cx="124.41" cy="197.20" r="1.25" fill="#222"/>
<rect x="170.35" y="229.75" width="10.10" height="5.50" fill="#fff" stroke="#000" stroke-width="1.3"/>
<text x="186.00" y="235.58" font-size="8.6" text-anchor="start" font-weight="bold" font-style="normal" fill="#000" >Control</text>
<rect x="170.35" y="241.95" width="10.10" height="5.50" fill="#cfcfcf" stroke="#000" stroke-width="1.3"/>
<text x="186.00" y="247.38" font-size="8.6" text-anchor="start" font-weight="bold" font-style="normal" fill="#000" >Control + SCF</text>
<rect x="170.35" y="252.45" width="10.10" height="5.50" fill="#000" stroke="#000" stroke-width="1.3"/>
<text x="184.90" y="258.58" font-size="8.6" text-anchor="start" font-weight="bold" font-style="normal" fill="#000" ><tspan font-style="italic">Pten</tspan><tspan font-style="italic" font-size="6.19" dy="-3" letter-spacing="0.45">-/-</tspan></text>
<rect x="170.35" y="264.10" width="10.10" height="5.50" fill="#fff" stroke="#000" stroke-width="1.3"/>
<path d="M171.80,264.75L176.00,268.95M171.80,268.95L176.00,264.75" stroke="#333" stroke-width="1.0" fill="none"/>
<path d="M174.80,264.75L179.00,268.95M174.80,268.95L179.00,264.75" stroke="#333" stroke-width="1.0" fill="none"/>
<text x="184.90" y="270.33" font-size="8.6" text-anchor="start" font-weight="bold" font-style="normal" fill="#000" ><tspan font-style="italic">Pten</tspan><tspan font-style="italic" font-size="6.19" dy="-3" letter-spacing="0.45">-/-</tspan><tspan dy="3"> + SCF</tspan></text>
<text x="273.80" y="198.20" font-size="17.5" text-anchor="start" font-weight="bold" font-style="normal" fill="#000" >D</text>
<line x1="328.90" y1="232.80" x2="328.90" y2="326.20" stroke="#000" stroke-width="1.3"/>
<line x1="324.80" y1="325.60" x2="328.90" y2="325.60" stroke="#000" stroke-width="1.2"/>
<text x="324.60" y="328.77" font-size="8.8" text-anchor="end" font-weight="bold" font-style="normal" fill="#000" >0</text>
<line x1="324.80" y1="307.04" x2="328.90" y2="307.04" stroke="#000" stroke-width="1.2"/>
<text x="324.60" y="310.21" font-size="8.8" text-anchor="end" font-weight="bold" font-style="normal" fill="#000" >200</text>
<line x1="324.80" y1="288.48" x2="328.90" y2="288.48" stroke="#000" stroke-width="1.2"/>
<text x="324.60" y="291.65" font-size="8.8" text-anchor="end" font-weight="bold" font-style="normal" fill="#000" >400</text>
<line x1="324.80" y1="269.92" x2="328.90" y2="269.92" stroke="#000" stroke-width="1.2"/>
<text x="324.60" y="273.09" font-size="8.8" text-anchor="end" font-weight="bold" font-style="normal" fill="#000" >600</text>
<line x1="324.80" y1="251.36" x2="328.90" y2="251.36" stroke="#000" stroke-width="1.2"/>
<text x="324.60" y="254.53" font-size="8.8" text-anchor="end" font-weight="bold" font-style="normal" fill="#000" >800</text>
<line x1="324.80" y1="232.80" x2="328.90" y2="232.80" stroke="#000" stroke-width="1.2"/>
<text x="324.60" y="235.97" font-size="8.8" text-anchor="end" font-weight="bold" font-style="normal" fill="#000" >1000</text>
<line x1="328.30" y1="325.60" x2="468.00" y2="325.60" stroke="#000" stroke-width="1.3"/>
<line x1="346.30" y1="325.60" x2="346.30" y2="329.10" stroke="#000" stroke-width="1.2"/>
<text x="346.30" y="337.90" font-size="8.8" text-anchor="middle" font-weight="bold" font-style="normal" fill="#000" >0</text>
<rect x="340.30" y="311.61" width="4.65" height="13.99" fill="#cfcfcf" stroke="#000" stroke-width="1.15"/>
<rect x="355.03" y="311.23" width="4.65" height="14.37" fill="url(#pb13)" stroke="#000" stroke-width="1.15"/>
<line x1="381.15" y1="325.60" x2="381.15" y2="329.10" stroke="#000" stroke-width="1.2"/>
<text x="381.15" y="337.90" font-size="8.8" text-anchor="middle" font-weight="bold" font-style="normal" fill="#000" >1</text>
<line x1="370.10" y1="308.90" x2="370.10" y2="307.50" stroke="#000" stroke-width="0.9"/>
<line x1="368.50" y1="307.50" x2="371.70" y2="307.50" stroke="#000" stroke-width="0.9"/>
<rect x="367.78" y="309.47" width="4.65" height="16.13" fill="#fff" stroke="#000" stroke-width="1.15"/>
<line x1="377.47" y1="267.60" x2="377.47" y2="264.91" stroke="#000" stroke-width="0.9"/>
<line x1="375.87" y1="264.91" x2="379.07" y2="264.91" stroke="#000" stroke-width="0.9"/>
<rect x="375.15" y="268.18" width="4.65" height="57.42" fill="#cfcfcf" stroke="#000" stroke-width="1.15"/>
<line x1="384.83" y1="315.39" x2="384.83" y2="313.44" stroke="#000" stroke-width="0.9"/>
<line x1="383.23" y1="313.44" x2="386.43" y2="313.44" stroke="#000" stroke-width="0.9"/>
<rect x="382.51" y="315.97" width="4.65" height="9.63" fill="#000" stroke="#000" stroke-width="1.15"/>
<line x1="392.20" y1="248.02" x2="392.20" y2="245.33" stroke="#000" stroke-width="0.9"/>
<line x1="390.60" y1="245.33" x2="393.80" y2="245.33" stroke="#000" stroke-width="0.9"/>
<rect x="389.88" y="248.59" width="4.65" height="77.01" fill="url(#pb14)" stroke="#000" stroke-width="1.15"/>
<circle cx="390.45" cy="242.03" r="1.25" fill="#222"/>
<circle cx="393.95" cy="242.03" r="1.25" fill="#222"/>
<line x1="416.00" y1="325.60" x2="416.00" y2="329.10" stroke="#000" stroke-width="1.2"/>
<text x="416.00" y="337.90" font-size="8.8" text-anchor="middle" font-weight="bold" font-style="normal" fill="#000" >10</text>
<line x1="404.95" y1="285.51" x2="404.95" y2="282.91" stroke="#000" stroke-width="0.9"/>
<line x1="403.35" y1="282.91" x2="406.55" y2="282.91" stroke="#000" stroke-width="0.9"/>
<rect x="402.62" y="286.09" width="4.65" height="39.51" fill="#fff" stroke="#000" stroke-width="1.15"/>
<line x1="412.32" y1="265.28" x2="412.32" y2="261.38" stroke="#000" stroke-width="0.9"/>
<line x1="410.72" y1="261.38" x2="413.92" y2="261.38" stroke="#000" stroke-width="0.9"/>
<rect x="410.00" y="265.86" width="4.65" height="59.74" fill="#cfcfcf" stroke="#000" stroke-width="1.15"/>
<line x1="419.68" y1="296.28" x2="419.68" y2="291.82" stroke="#000" stroke-width="0.9"/>
<line x1="418.08" y1="291.82" x2="421.28" y2="291.82" stroke="#000" stroke-width="0.9"/>
<rect x="417.36" y="296.85" width="4.65" height="28.75" fill="#000" stroke="#000" stroke-width="1.15"/>
<rect x="424.73" y="235.60" width="4.65" height="90.00" fill="url(#pb15)" stroke="#000" stroke-width="1.15"/>
<circle cx="425.30" cy="231.73" r="1.25" fill="#222"/>
<circle cx="428.80" cy="231.73" r="1.25" fill="#222"/>
<line x1="450.85" y1="325.60" x2="450.85" y2="329.10" stroke="#000" stroke-width="1.2"/>
<text x="450.85" y="337.90" font-size="8.8" text-anchor="middle" font-weight="bold" font-style="normal" fill="#000" >100</text>
<rect x="437.48" y="318.75" width="4.65" height="6.85" fill="#fff" stroke="#000" stroke-width="1.15"/>
<rect x="444.85" y="319.77" width="4.65" height="5.83" fill="#cfcfcf" stroke="#000" stroke-width="1.15"/>
<rect x="452.21" y="319.77" width="4.65" height="5.83" fill="#000" stroke="#000" stroke-width="1.15"/>
<rect x="459.58" y="313.46" width="4.65" height="12.14" fill="url(#pb16)" stroke="#000" stroke-width="1.15"/>
<circle cx="461.90" cy="309.59" r="1.25" fill="#222"/>
<text x="399.00" y="352.30" font-size="9.9" text-anchor="middle" font-weight="bold" font-style="normal" fill="#000" >Ag (ng/ml)</text>
<text transform="translate(300.10,277.50) rotate(-90)" font-size="9.4" text-anchor="middle" font-weight="bold" fill="#000">TNF-alpha (pg/ml)</text>
<line x1="339.40" y1="191.40" x2="339.40" y2="232.30" stroke="#222" stroke-width="0.8"/>
<line x1="337.60" y1="232.30" x2="339.40" y2="232.30" stroke="#222" stroke-width="0.8"/>
<text x="337.00" y="234.75" font-size="6.8" text-anchor="end" font-weight="bold" font-style="normal" fill="#000" stroke="#000" stroke-width="0.25">0</text>
<line x1="337.60" y1="222.35" x2="339.40" y2="222.35" stroke="#222" stroke-width="0.8"/>
<text x="337.00" y="224.80" font-size="6.8" text-anchor="end" font-weight="bold" font-style="normal" fill="#000" stroke="#000" stroke-width="0.25">50</text>
<line x1="337.60" y1="212.40" x2="339.40" y2="212.40" stroke="#222" stroke-width="0.8"/>
<text x="337.00" y="214.85" font-size="6.8" text-anchor="end" font-weight="bold" font-style="normal" fill="#000" stroke="#000" stroke-width="0.25">100</text>
<line x1="337.60" y1="202.45" x2="339.40" y2="202.45" stroke="#222" stroke-width="0.8"/>
<text x="337.00" y="204.90" font-size="6.8" text-anchor="end" font-weight="bold" font-style="normal" fill="#000" stroke="#000" stroke-width="0.25">150</text>
<line x1="337.60" y1="192.50" x2="339.40" y2="192.50" stroke="#222" stroke-width="0.8"/>
<text x="337.00" y="194.95" font-size="6.8" text-anchor="end" font-weight="bold" font-style="normal" fill="#000" stroke="#000" stroke-width="0.25">200</text>
<line x1="339.40" y1="232.30" x2="400.10" y2="232.30" stroke="#222" stroke-width="0.8"/>
<line x1="347.00" y1="232.30" x2="347.00" y2="234.10" stroke="#444" stroke-width="0.6"/>
<line x1="362.13" y1="232.30" x2="362.13" y2="234.10" stroke="#444" stroke-width="0.6"/>
<rect x="359.36" y="202.08" width="5.55" height="30.22" fill="#cfcfcf" stroke="#000" stroke-width="0.85"/>
<line x1="377.26" y1="232.30" x2="377.26" y2="234.10" stroke="#444" stroke-width="0.6"/>
<line x1="392.39" y1="232.30" x2="392.39" y2="234.10" stroke="#444" stroke-width="0.6"/>
<rect x="389.62" y="200.89" width="5.55" height="31.42" fill="url(#chki)" stroke="#000" stroke-width="0.85"/>
<rect x="443.35" y="226.35" width="10.60" height="5.60" fill="#fff" stroke="#000" stroke-width="1.3"/>
<text x="459.20" y="231.55" font-size="8.8" text-anchor="start" font-weight="bold" font-style="normal" fill="#000" >Control</text>
<rect x="443.35" y="238.95" width="10.60" height="5.60" fill="#cfcfcf" stroke="#000" stroke-width="1.3"/>
<text x="459.20" y="244.25" font-size="8.8" text-anchor="start" font-weight="bold" font-style="normal" fill="#000" >Control + SCF</text>
<rect x="443.35" y="250.20" width="10.60" height="5.60" fill="#000" stroke="#000" stroke-width="1.3"/>
<text x="458.10" y="256.05" font-size="8.8" text-anchor="start" font-weight="bold" font-style="normal" fill="#000" ><tspan font-style="italic">Pten</tspan><tspan font-style="italic" font-size="6.34" dy="-3" letter-spacing="0.45">-/-</tspan></text>
<rect x="443.35" y="261.85" width="10.60" height="5.60" fill="#fff" stroke="#000" stroke-width="1.3"/>
<path d="M444.92,262.50L449.22,266.80M444.92,266.80L449.22,262.50" stroke="#333" stroke-width="1.0" fill="none"/>
<path d="M448.08,262.50L452.38,266.80M448.08,266.80L452.38,262.50" stroke="#333" stroke-width="1.0" fill="none"/>
<text x="458.10" y="268.10" font-size="8.8" text-anchor="start" font-weight="bold" font-style="normal" fill="#000" ><tspan font-style="italic">Pten</tspan><tspan font-style="italic" font-size="6.34" dy="-3" letter-spacing="0.45">-/-</tspan><tspan dy="3"> + SCF</tspan></text>
</svg>
</body></html>
